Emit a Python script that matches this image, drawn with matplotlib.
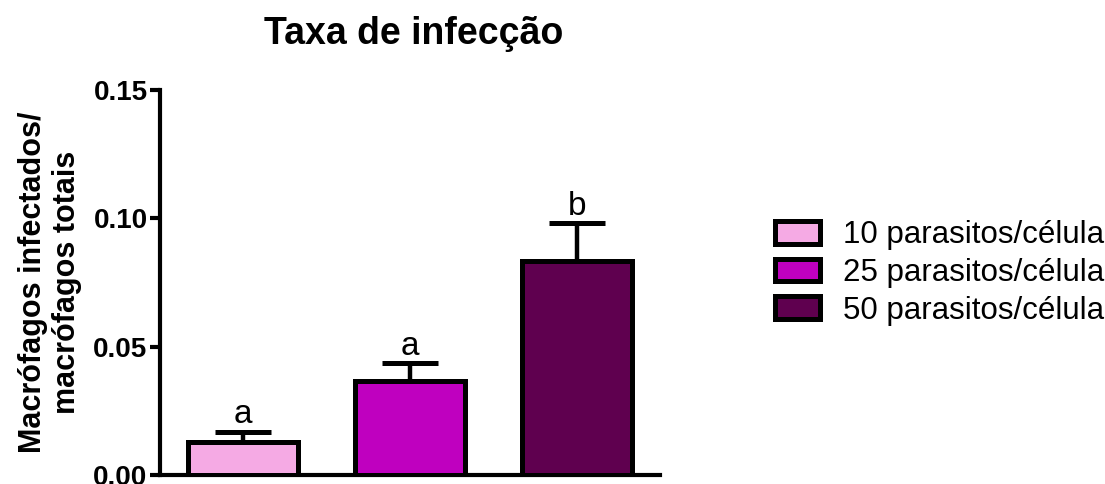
import numpy as np
import matplotlib.pyplot as plt
from matplotlib.patches import Patch

plt.rcParams['font.family'] = ['Liberation Sans', 'DejaVu Sans']

# dados
grupos = ['10 parasitos/célula', '25 parasitos/célula', '50 parasitos/célula']
medias = [0.013, 0.0365, 0.0833]
erros = [0.0039, 0.0070, 0.0147]
letras = ['a', 'a', 'b']
cores = ['#F5AAE4', '#BF00BF', '#5F004F']

fig = plt.figure(figsize=(11.05, 4.84), dpi=100)
ax = fig.add_axes([160/1105, 1 - 475/484, 500/1105, 385/484])

x = np.arange(len(grupos))
ax.bar(x, medias, width=0.66, color=cores, edgecolor='black', linewidth=3.6, zorder=3)
ax.errorbar(x, medias, yerr=[np.zeros(len(erros)), erros], fmt='none',
            ecolor='black', elinewidth=3.2, capsize=20, capthick=3.6, zorder=2)

for xi, m, e, l in zip(x, medias, erros, letras):
    ax.annotate(l, (xi, m + e), xytext=(0, 1), textcoords='offset points',
                ha='center', va='bottom', fontsize=24)

ax.set_xlim(-0.5, 2.5)
ax.set_ylim(0, 0.15)
ax.set_yticks([0, 0.05, 0.10, 0.15])
ax.set_yticklabels(['0.00', '0.05', '0.10', '0.15'], fontsize=20, fontweight='bold')
ax.set_xticks([])
for s in ['top', 'right']:
    ax.spines[s].set_visible(False)
for s in ['left', 'bottom']:
    ax.spines[s].set_linewidth(3)
ax.tick_params(axis='y', length=7, width=3, pad=2)

fig.text(414/1105, 1 - 34/484, 'Taxa de infecção', ha='center', va='center',
         fontsize=27, fontweight='bold')
fig.text(50/1105, 1 - 282/484, 'Macrófagos infectados/\nmacrófagos totais',
         rotation=90, ha='center', va='center', multialignment='center',
         fontsize=22, fontweight='bold', linespacing=1.2)

handles = [Patch(facecolor=c, edgecolor='black', linewidth=3.6) for c in cores]
fig.legend(handles, grupos, loc='center left', bbox_to_anchor=(775/1105, 1 - 273/484),
           frameon=False, fontsize=22.5, borderaxespad=0, borderpad=0,
           handlelength=1.45, handleheight=0.74, handletextpad=0.74, labelspacing=0.24)

fig.savefig('out.png', dpi=100)
